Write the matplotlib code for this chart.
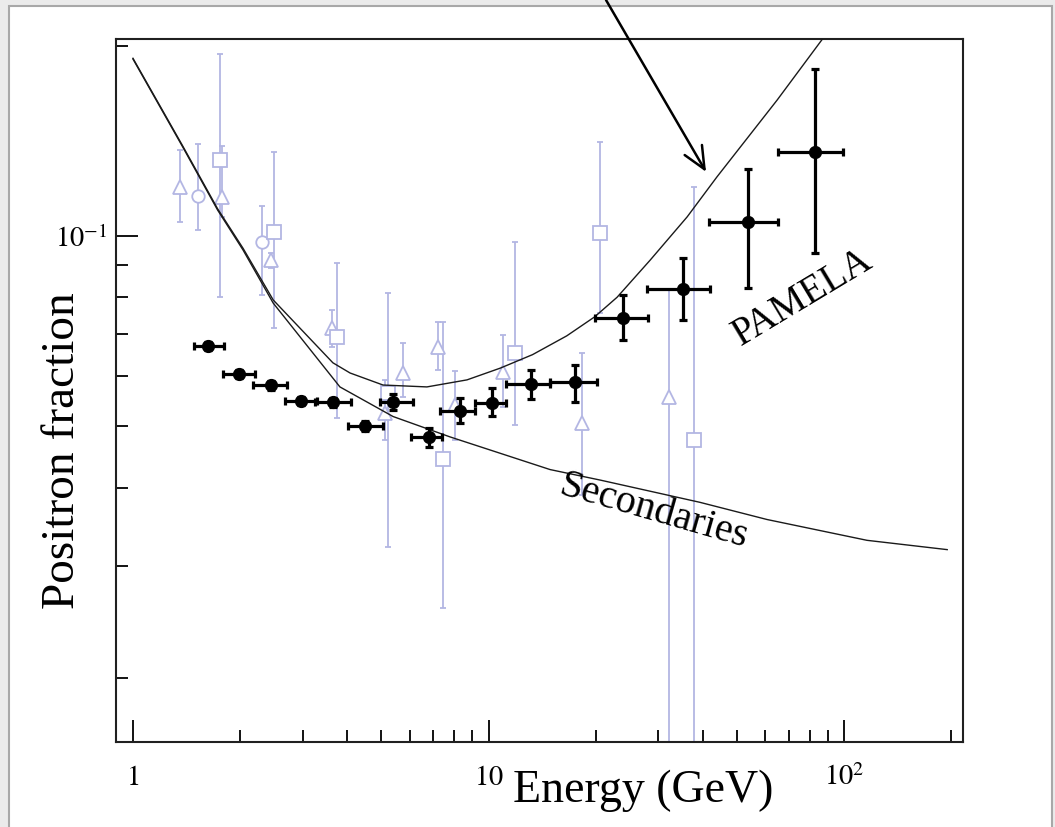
import matplotlib
matplotlib.use('Agg')
import matplotlib.pyplot as plt
import matplotlib.ticker as mticker
from matplotlib.patches import Rectangle

plt.rcParams['font.family'] = ['Liberation Serif', 'DejaVu Serif']
plt.rcParams['mathtext.fontset'] = 'stix'

# PAMELA points (black): energy bin centre / edges, fraction and its error range
pam_e = [1.625, 1.99, 2.44, 2.97, 3.65, 4.49, 5.39, 6.80, 8.31, 10.2, 13.2, 17.5, 23.9, 35.2, 53.7, 82.9]
pam_elo = [1.485, 1.79, 2.18, 2.68, 3.25, 4.03, 4.95, 6.05, 7.30, 9.16, 11.2, 14.9, 19.9, 27.9, 41.7, 65.2]
pam_ehi = [1.80, 2.20, 2.71, 3.29, 4.10, 5.05, 6.13, 7.40, 9.16, 11.2, 14.9, 20.2, 28.1, 42.0, 65.2, 99.3]
pam_f = [0.0670, 0.0605, 0.0580, 0.0548, 0.0546, 0.0500, 0.0546, 0.0480, 0.0528, 0.0545, 0.0583, 0.0588, 0.0741, 0.0824, 0.1052, 0.136]
pam_flo = [0.0660, 0.0596, 0.0571, 0.0540, 0.0537, 0.0491, 0.0530, 0.0463, 0.0506, 0.0519, 0.0552, 0.0546, 0.0684, 0.0736, 0.0828, 0.094]
pam_fhi = [0.0680, 0.0614, 0.0589, 0.0556, 0.0555, 0.0509, 0.0562, 0.0497, 0.0554, 0.0574, 0.0614, 0.0625, 0.0806, 0.0923, 0.1276, 0.1836]

# older experiments (light blue, open markers)
tri_e = [1.36, 1.78, 2.44, 3.63, 5.12, 5.75, 7.21, 8.05, 11.0, 18.3, 32.2]
tri_f = [0.1195, 0.1153, 0.0916, 0.0715, 0.0525, 0.0607, 0.0667, 0.0541, 0.0609, 0.0506, 0.0556]
tri_lo = [0.1052, 0.107, 0.0890, 0.0667, 0.0475, 0.0556, 0.0614, 0.0475, 0.0537, 0.0389, 0.005]
tri_hi = [0.1368, 0.1387, 0.0940, 0.0764, 0.0592, 0.0678, 0.0731, 0.0611, 0.0697, 0.0653, 0.0821]

circ_e = [1.52, 2.31]
circ_f = [0.1157, 0.0978]
circ_lo = [0.1022, 0.0806]
circ_hi = [0.140, 0.1116]

sq_e = [1.757, 2.49, 3.75, 5.22, 7.45, 11.9, 20.6, 37.8]
sq_f = [0.1318, 0.1015, 0.0692, 0.0565, 0.0443, 0.0653, 0.101, 0.0475]
sq_lo = [0.080, 0.0715, 0.0515, 0.0322, 0.0258, 0.0503, 0.0755, 0.005]
sq_hi = [0.194, 0.136, 0.0907, 0.0813, 0.0731, 0.0978, 0.141, 0.1195]

# model curves
sec_e = [1.0, 1.38, 1.73, 2.04, 2.48, 3.82, 5.39, 7.79, 14.9, 20.6, 39.3, 60.7, 116, 195]
sec_f = [0.1905, 0.1383, 0.1099, 0.0950, 0.0783, 0.0577, 0.0518, 0.0481, 0.0427, 0.0411, 0.0379, 0.0356, 0.0330, 0.0319]
fit_e = [1.0, 1.38, 1.73, 2.04, 2.48, 3.65, 4.08, 5.05, 6.71, 8.70, 10.8, 13.3, 16.6, 19.9, 23.0, 28.5, 36.2, 43.9, 64.8, 87.0]
fit_f = [0.1910, 0.1388, 0.1104, 0.0956, 0.0792, 0.0630, 0.0607, 0.0581, 0.0577, 0.0592, 0.0618, 0.0649, 0.0695, 0.0745, 0.080, 0.0916, 0.1072, 0.124, 0.164, 0.205]

x_minor = [2, 3, 4, 5, 6, 7, 8, 9, 20, 30, 40, 50, 60, 70, 80, 90, 200]

blue = '#b3b6e3'

fig = plt.figure(figsize=(10.55, 8.27), dpi=100, facecolor='#ebebeb')
fig.add_artist(Rectangle((9 / 1055, -0.01), 1043 / 1055, 1.01 - 6 / 827, transform=fig.transFigure,
                         facecolor='white', edgecolor='#a8a8a8', lw=1.5, zorder=0))
ax = fig.add_axes([116 / 1055, 85 / 827, 847 / 1055, 703 / 827])
ax.set_xscale('log')
ax.set_yscale('log')

for e, f, lo, hi, m, ms in [(tri_e, tri_f, tri_lo, tri_hi, '^', 10),
                            (circ_e, circ_f, circ_lo, circ_hi, 'o', 9),
                            (sq_e, sq_f, sq_lo, sq_hi, 's', 9.5)]:
    yerr = [[a - b for a, b in zip(f, lo)], [b - a for a, b in zip(f, hi)]]
    ax.errorbar(e, f, yerr=yerr, fmt=m, ms=ms, mfc='white', mec=blue, mew=1.3,
                color=blue, elinewidth=1.3, capsize=2.5, capthick=1.3, zorder=2)

ax.plot(sec_e, sec_f, color='#1a1a1a', lw=1.0, zorder=3)
ax.plot(fit_e, fit_f, color='#1a1a1a', lw=1.0, zorder=3)

xerr = [[a - b for a, b in zip(pam_e, pam_elo)], [b - a for a, b in zip(pam_e, pam_ehi)]]
yerr = [[a - b for a, b in zip(pam_f, pam_flo)], [b - a for a, b in zip(pam_f, pam_fhi)]]
ax.errorbar(pam_e, pam_f, xerr=xerr, yerr=yerr, fmt='o', ms=8.5, color='black',
            elinewidth=2.3, capsize=2.8, capthick=2.3, zorder=4)

ax.set_xlim(0.896, 216)
ax.set_ylim(0.01583, 0.2049)

ax.xaxis.set_major_locator(mticker.FixedLocator([1, 10, 100]))
ax.xaxis.set_major_formatter(mticker.FixedFormatter(['$1$', '$10$', '$10^{2}$']))
ax.xaxis.set_minor_locator(mticker.FixedLocator(x_minor))
ax.xaxis.set_minor_formatter(mticker.NullFormatter())
ax.yaxis.set_major_locator(mticker.FixedLocator([0.1]))
ax.yaxis.set_major_formatter(mticker.FixedFormatter(['$10^{-1}$']))
ax.yaxis.set_minor_locator(mticker.LogLocator(base=10, subs=range(2, 10), numticks=30))
ax.yaxis.set_minor_formatter(mticker.NullFormatter())

ax.tick_params(which='both', direction='in', top=False, right=False, color='black')
ax.tick_params(which='major', length=16, width=1.3)
ax.tick_params(which='minor', length=8.5, width=1.3)
ax.tick_params(axis='x', labelsize=20.5, pad=31)
ax.tick_params(axis='y', labelsize=20.5, pad=6)
plt.setp(ax.get_xticklabels(), va='baseline')
for s in ax.spines.values():
    s.set_linewidth(1.5)
    s.set_color('#202020')

ax.set_xlabel('Energy (GeV)', fontsize=33)
ax.xaxis.set_label_coords((513 - 116) / 847, (742 - 802) / 703)
ax.xaxis.label.set_ha('left')
ax.xaxis.label.set_va('baseline')
ax.set_ylabel('Positron fraction', fontsize=34)
ax.yaxis.set_label_coords((63 - 116) / 847, (742 - 451) / 703)
ax.yaxis.label.set_va('center')

ax.text((803 - 116) / 847, (742 - 298) / 703, 'PAMELA', transform=ax.transAxes, fontsize=28,
        rotation=31, rotation_mode='anchor', ha='center', va='center')
ax.text((653 - 116) / 847, (742 - 512) / 703, 'Secondaries', transform=ax.transAxes, fontsize=29,
        rotation=-16, rotation_mode='anchor', ha='center', va='center')

ax.annotate('', xy=(40.9, 0.1263), xycoords='data', xytext=(606 / 1055, 1.0),
            textcoords='figure fraction', annotation_clip=False,
            arrowprops=dict(arrowstyle='->,head_length=0.8,head_width=0.36', lw=1.8,
                            color='black', mutation_scale=20, shrinkA=0, shrinkB=0))

fig.savefig('out.png', dpi=100, facecolor=fig.get_facecolor())
